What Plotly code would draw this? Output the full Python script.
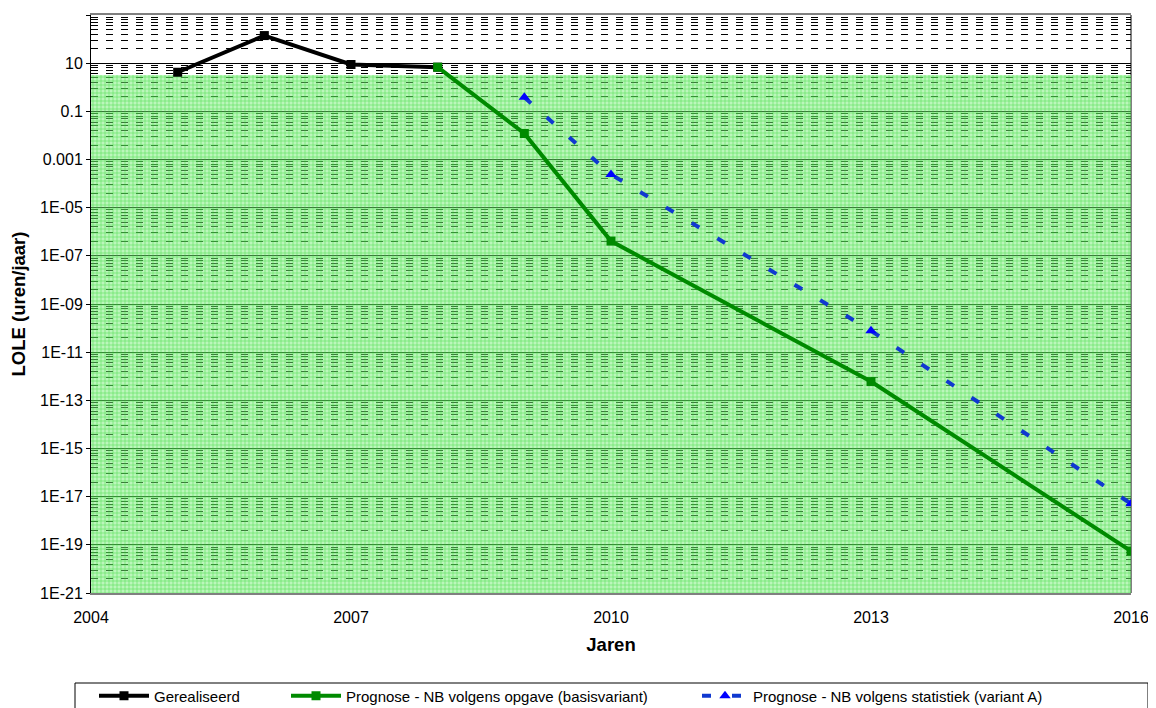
import plotly.graph_objects as go

# ---------------- data ----------------
years_real = [2005, 2006, 2007, 2008]
lole_real = [4.2, 140, 8.8, 6.8]

years_basis = [2008, 2009, 2010, 2013, 2016]
lole_basis = [6.8, 0.012, 4.1e-7, 6.0e-13, 5.5e-20]

years_stat = [2009, 2010, 2013, 2016]
lole_stat = [0.38, 2.4e-4, 7.8e-11, 5.1e-18]

band_years = [2004, 2016]
band_low = 1e-21
band_high = 3.2

ytick_vals = [1e3, 1e1, 1e-1, 1e-3, 1e-5, 1e-7, 1e-9, 1e-11, 1e-13, 1e-15, 1e-17, 1e-19, 1e-21]
ytick_text = ["1000", "10", "0.1", "0.001", "1E-05", "1E-07", "1E-09", "1E-11",
              "1E-13", "1E-15", "1E-17", "1E-19", "1E-21"]
xtick_vals = [2004, 2007, 2010, 2013, 2016]

name_real = "Gerealiseerd"
name_basis = "Prognose - NB volgens opgave (basisvariant)"
name_stat = "Prognose - NB volgens statistiek (variant A)"

# ---------------- figure ----------------
OFF = 8  # page body margin
W, H = 1156 - OFF, 708 - OFF
L, T = 91 - OFF, 15 - OFF
R = W - (1131 - OFF)
B = H - (593 - OFF)
pw, ph = W - L - R, H - T - B


def px_x(p):
    return (p - OFF - L) / pw


def px_y(p):
    return (H - B - (p - OFF)) / ph


fig = go.Figure()

# green norm band
fig.add_trace(go.Scatter(
    x=[band_years[0], band_years[1], band_years[1], band_years[0]],
    y=[band_low, band_low, band_high, band_high],
    mode="lines", fill="toself",
    line=dict(width=0, color="rgba(0,0,0,0)"),
    fillcolor="rgba(100,232,100,0.5)",
    fillpattern=dict(shape="+", size=4, solidity=0.3,
                     fgcolor="rgba(40,215,40,0.6)",
                     bgcolor="rgba(120,238,120,0.5)",
                     fillmode="replace"),
    showlegend=False, hoverinfo="skip",
))

fig.add_trace(go.Scatter(
    x=years_real, y=lole_real, name=name_real, mode="lines+markers",
    line=dict(color="black", width=4),
    marker=dict(symbol="square", size=9, color="black"),
    legend="legend",
))

fig.add_trace(go.Scatter(
    x=years_basis, y=lole_basis, name=name_basis, mode="lines+markers",
    line=dict(color="#008a00", width=4),
    marker=dict(symbol="square", size=9, color="#008a00"),
    legend="legend2",
))

fig.add_trace(go.Scatter(
    x=years_stat, y=lole_stat, name=name_stat, mode="lines+markers",
    line=dict(color="#1038d0", width=4, dash="9px,21px"),
    marker=dict(symbol="triangle-up", size=10, color="#0000ff"),
    legend="legend3",
))

# minor gridline positions (Excel-style within 2-decade major intervals)
minor_vals = []
for e in range(-21, 3, 2):
    base = 10.0 ** e
    for k in range(2, 10):
        minor_vals.append(base * k * k)

FONT = "Liberation Sans, Arial, sans-serif"
tick_font = dict(family=FONT, size=16, color="black")
leg_font = dict(family=FONT, size=15, color="black")
title_font = dict(family=FONT, size=18.5, color="black")

leg_common = dict(yanchor="middle", xanchor="left", orientation="h", font=leg_font,
                  bgcolor="rgba(0,0,0,0)", borderwidth=0)

fig.update_layout(
    width=W, height=H,
    margin=dict(l=L, r=R, t=T, b=B, autoexpand=False),
    paper_bgcolor="white", plot_bgcolor="white",
    font=tick_font,
    xaxis=dict(
        range=[2004, 2016], tickmode="array", tickvals=xtick_vals,
        ticktext=[str(v) for v in xtick_vals],
        showgrid=False, zeroline=False,
        showline=True, linecolor="#808080", linewidth=2, mirror=True,
        ticks="", ticklabelstandoff=9,
        title=dict(text="<b>Jaren</b>", font=title_font, standoff=13),
        tickfont=tick_font,
    ),
    yaxis=dict(
        type="log", range=[-21, 3],
        tickmode="array", tickvals=ytick_vals, ticktext=ytick_text,
        showgrid=True, gridcolor="black", gridwidth=1,
        showline=True, linecolor="black", linewidth=1,
        ticks="outside", ticklen=4, tickcolor="black",
        zeroline=False,
        minor=dict(tickmode="array", tickvals=minor_vals, showgrid=True,
                   gridcolor="black", gridwidth=1, griddash="7px,8px", ticks=""),
        title=dict(text="<b>LOLE (uren/jaar)</b>", font=title_font, standoff=10),
        tickfont=tick_font,
    ),
    legend=dict(x=px_x(94), y=px_y(696), itemwidth=50, **leg_common),
    legend2=dict(x=px_x(286), y=px_y(696), itemwidth=50, **leg_common),
    legend3=dict(x=px_x(697), y=px_y(696), itemwidth=46, **leg_common),
    shapes=[
        # right border of plot area
        dict(type="line", xref="x domain", yref="y domain", x0=1, x1=1, y0=0, y1=1,
             line=dict(color="#808080", width=2), layer="below"),
        # legend frame
        dict(type="rect", xref="paper", yref="paper",
             x0=px_x(75), x1=px_x(1148), y0=px_y(712), y1=px_y(683),
             line=dict(color="black", width=1), fillcolor="rgba(0,0,0,0)"),
    ],
)

fig.write_html("out.html")
